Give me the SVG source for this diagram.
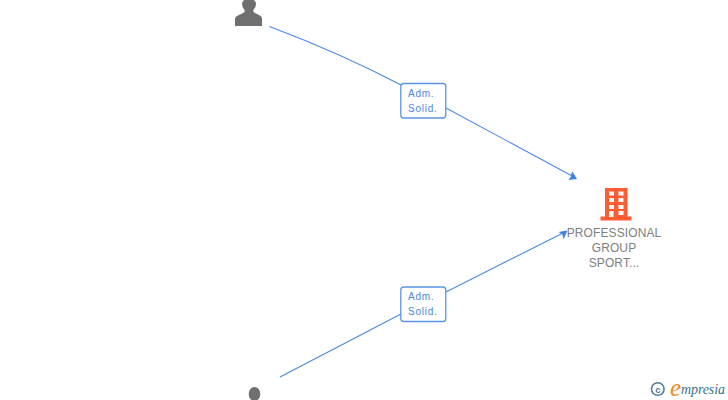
<svg xmlns="http://www.w3.org/2000/svg" width="728" height="400" viewBox="0 0 728 400">
<defs>
<style>
.edge{fill:none;stroke:#4a89e8;stroke-width:1.1}
.head{fill:#3f82e6}
.box{fill:#fff;stroke:#5b93e6;stroke-width:1.3}
.lbl{font-family:"Liberation Sans",Arial,sans-serif;font-size:10px;fill:#4a86de;letter-spacing:.75px}
.name{font-family:"Liberation Sans",Arial,sans-serif;font-size:12px;fill:#808080;text-anchor:middle;letter-spacing:.1px}
.person{fill:#6f6f6f}
</style>
</defs>
<rect width="728" height="400" fill="#fff"/>
<g id="connectors">
<path class="edge" d="M269.500 26.500 Q340 53 401 85"/>
<path class="edge" d="M446 108 L574 177"/>
<polygon class="head" points="577,179 568.500,180 571,176.500 572,171"/>
<path class="edge" d="M280 377 L401 314"/>
<path class="edge" d="M446 292 L565 232"/>
<polygon class="head" points="567.500,230.500 563.500,239.500 562.500,234.500 558.500,232"/>
</g>
<g id="edge-label-1">
<rect class="box" x="400.800" y="83.500" width="45" height="34.500" rx="3"/>
<text class="lbl" x="408" y="97">Adm.</text>
<text class="lbl" x="408" y="112">Solid.</text>
</g>
<g id="edge-label-2">
<rect class="box" x="400.800" y="287" width="45" height="34.500" rx="3"/>
<text class="lbl" x="408" y="300">Adm.</text>
<text class="lbl" x="408" y="315">Solid.</text>
</g>
<g id="person-1">
<path class="person" d="M235 26 L235 19 Q235.500 16 239 15 L244 12.500 Q245 11.500 244.500 10 Q242 7 242 3.500 Q242.500 -1 249 -1 Q255.500 -1 256 3.500 Q256 7 253.500 10 Q253 11.500 254 12.500 L259 15 Q262 16 262 19 L262 26 Z"/>
</g>
<g id="person-2">
<ellipse class="person" cx="254.500" cy="394" rx="5.800" ry="7"/>
</g>
<g id="company">
<path fill="#ff5c33" d="M605 188 H627.500 V216.500 H631.500 V220.500 H600.500 V216.500 H605 Z"/>
<g fill="#fff">
<rect x="609" y="191.500" width="5" height="4"/><rect x="618.500" y="191.500" width="5" height="4"/>
<rect x="609" y="198" width="5" height="4"/><rect x="618.500" y="198" width="5" height="4"/>
<rect x="609" y="205" width="5" height="4"/><rect x="618.500" y="205" width="5" height="4"/>
<rect x="609" y="211" width="4.500" height="6"/><rect x="618.500" y="211" width="5" height="4"/>
</g>
<text class="name" x="614" y="237">PROFESSIONAL</text>
<text class="name" x="614" y="252">GROUP</text>
<text class="name" x="614" y="267">SPORT...</text>
</g>
<g id="watermark">
<circle cx="657.800" cy="389" r="6.300" fill="none" stroke="#4f7f96" stroke-width="1.600"/>
<text x="657.800" y="392.500" font-family="'Liberation Sans',Arial,sans-serif" font-size="9.500" font-weight="bold" fill="#4f7f96" text-anchor="middle">c</text>
<text x="670" y="396" font-family="'Liberation Serif',serif" font-size="25" font-style="italic" fill="#f08a24">e</text>
<text x="681" y="394" font-family="'Liberation Serif',serif" font-size="14" font-style="italic" fill="#3f7288" textLength="44">mpresia</text>
</g>
</svg>
